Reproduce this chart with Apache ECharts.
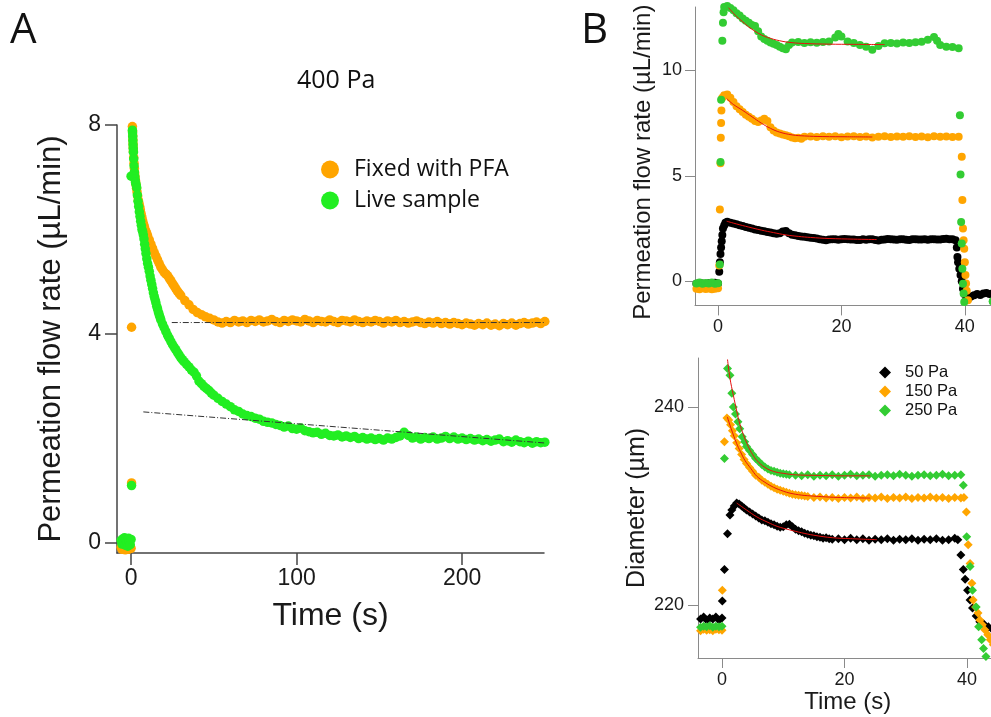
<!DOCTYPE html>
<html>
<head>
<meta charset="utf-8">
<script src="https://cdn.jsdelivr.net/npm/echarts@6/dist/echarts.min.js"></script>
<style>html,body{margin:0;padding:0;background:#fff}#c{width:991px;height:717px}</style>
</head>
<body>
<div id="c"></div>
<script>
// ---------- Panel A (400 Pa): [time s, flow µL/min] ----------
const fixedA = [[-6,-0.08],[-5.5,-0.12],[-5,-0.05],[-4.5,-0.1],[-4,-0.07],[-3.5,-0.13],[-3,-0.06],[-2.5,-0.1],[-2,-0.09],[-1.5,-0.12],[-1,-0.05],[-0.5,-0.08],[0,-0.1],
[0.3,1.15],[0.3,4.13],[0.8,7.97],[0.9,7.88],[1.0,7.8],[1.1,7.72],[1.2,7.64],[1.3,7.57],[1.4,7.5],[1.6,7.38],[1.8,7.27],[2.0,7.17],[2.2,7.08],[2.4,7.01],[2.7,6.93],[3.0,6.86],[3.3,6.79],[3.6,6.72],[4.0,6.64],[4.4,6.56],[4.8,6.5],[5.2,6.44],[5.6,6.38],[6.0,6.31],[6.5,6.24],[7.0,6.17],[7.5,6.11],[8,6.06],[8.5,6.0],[9,5.96],[9.5,5.92],[10,5.88],
[11,5.8],[12,5.72],[13,5.64],[14,5.56],[15,5.49],[16,5.42],[17,5.35],[18,5.28],[19,5.23],[20,5.18],[21,5.15],[22,5.12],[23,5.07],[24,5.02],[25,4.97],[26,4.92],[27,4.87],[28,4.82],[29,4.78],[30,4.74],
[32.5,4.64],[35,4.56],[37.5,4.47],[40,4.41],[42.5,4.37],[45,4.33],[47.5,4.3],[50,4.27],
[52.5,4.23],[55,4.21],[57.5,4.24],[60,4.22],[62.5,4.26],[65,4.23],[67.5,4.25],[70,4.22],[72.5,4.26],[75,4.24],[77.5,4.27],[80,4.23],[82.5,4.25],[85,4.28],[87.5,4.24],[90,4.22],[92.5,4.26],[95,4.24],[97.5,4.27],[100,4.25],
[102.5,4.23],[105,4.28],[107.5,4.25],[110,4.22],[112.5,4.26],[115,4.24],[117.5,4.23],[120,4.27],[122.5,4.24],[125,4.22],[127.5,4.26],[130,4.25],[132.5,4.23],[135,4.27],[137.5,4.24],[140,4.22],[142.5,4.25],[145,4.23],[147.5,4.26],[150,4.24],
[152.5,4.21],[155,4.25],[157.5,4.23],[160,4.26],[162.5,4.22],[165,4.24],[167.5,4.21],[170,4.23],[172.5,4.25],[175,4.22],[177.5,4.2],[180,4.23],[182.5,4.21],[185,4.24],[187.5,4.2],[190,4.22],[192.5,4.19],[195,4.22],[197.5,4.2],[200,4.18],
[202.5,4.21],[205,4.19],[207.5,4.17],[210,4.2],[212.5,4.18],[215,4.21],[217.5,4.17],[220,4.19],[222.5,4.16],[225,4.2],[227.5,4.18],[230,4.21],[232.5,4.17],[235,4.2],[237.5,4.22],[240,4.19],[242.5,4.21],[245,4.23],[247.5,4.2],[250,4.24]];

const liveA = [[-6,0.05],[-5.5,-0.02],[-5,0.08],[-4.5,0.0],[-4,0.1],[-3.5,-0.04],[-3,0.06],[-2.5,0.02],[-2,-0.06],[-1.5,0.09],[-1,0.03],[-0.5,-0.03],[0,0.07],
[0,7.02],[0.3,1.1],[0.8,7.9],[0.9,7.85],[1.0,7.78],[1.1,7.7],[1.2,7.62],[1.3,7.55],[1.4,7.48],[1.6,7.35],[1.8,7.22],[2.0,7.1],[2.2,7.02],[2.4,6.96],[2.7,6.9],[3.0,6.86],[3.4,6.8],[3.8,6.66],[4.2,6.54],[4.6,6.44],[5.0,6.34],[5.4,6.25],[5.8,6.16],[6.2,6.08],[6.6,6.0],[7.0,5.96],[7.4,5.9],[7.8,5.82],[8.2,5.72],[8.6,5.63],[9.0,5.54],[9.5,5.44],[10,5.35],
[10.5,5.28],[11,5.2],[11.5,5.11],[12,5.03],[12.5,4.95],[13,4.87],[13.5,4.79],[14,4.72],[14.5,4.66],[15,4.6],[15.5,4.53],[16,4.48],[16.5,4.42],[17,4.37],[17.5,4.32],[18,4.27],[19,4.19],[20,4.12],[21,4.05],[22,3.98],[23,3.92],[24,3.86],[25,3.8],[26,3.75],[27,3.7],[28,3.65],[29,3.6],[30,3.55],[31,3.51],[32,3.47],
[33.5,3.42],[35,3.37],[36.5,3.31],[38,3.27],[39.5,3.2],[41,3.1],[42.5,3.05],[44,3.0],[45.5,2.96],[47,2.92],[48.5,2.87],[50,2.83],
[52.5,2.77],[55,2.71],[57.5,2.66],[60,2.61],[62.5,2.55],[65,2.52],[67.5,2.47],[70,2.44],[72.5,2.42],[75,2.39],[77.5,2.37],[80,2.33],[82.5,2.31],[85,2.3],[87.5,2.27],[90,2.25],[92.5,2.22],[95,2.24],[97.5,2.19],[100,2.18],
[102.5,2.2],[105,2.15],[107.5,2.13],[110,2.11],[112.5,2.12],[115,2.08],[117.5,2.1],[120,2.06],[122.5,2.05],[125,2.07],[127.5,2.03],[130,2.05],[132.5,2.02],[135,2.04],[137.5,2.0],[140,2.02],[142.5,1.99],[145,2.01],[147.5,1.98],[150,2.0],
[152.5,1.97],[155,2.01],[157.5,1.99],[160,2.02],[162.5,2.05],[165,2.12],[167.5,2.06],[170,2.01],[172.5,2.03],[175,1.99],[177.5,2.02],[180,2.0],[182.5,2.03],[185,1.99],[187.5,2.01],[190,2.04],[192.5,2.0],[195,2.03],[197.5,1.99],[200,2.01],
[202.5,1.98],[205,2.0],[207.5,1.97],[210,1.99],[212.5,1.96],[215,1.98],[217.5,1.95],[220,1.97],[222.5,1.99],[225,1.94],[227.5,1.96],[230,1.93],[232.5,1.97],[235,1.94],[237.5,1.92],[240,1.95],[242.5,1.91],[245,1.94],[247.5,1.92],[250,1.93]];

const fitFixedA = [[24.6,4.22],[252,4.22]];
const fitLiveA = [[7.4,2.51],[252,1.91]];
const ticksA_x = [0,100,200];
const ticksA_y = [0,4,8];

// ---------- Panel B top: flow rate [time s, µL/min] ----------
const pa50Top = [[-3.5,-0.12],[-3,-0.08],[-2.5,-0.1],[-2,-0.14],[-1.5,-0.09],[-1,-0.11],[-0.5,-0.07],[0,-0.1],[0.2,0.45],[0.3,0.9],[0.4,1.3],[0.5,1.6],[0.6,1.9],[0.7,2.2],[0.8,2.5],[1.0,2.65],[1.2,2.78],[1.5,2.82],[2,2.78],[2.5,2.74],[3,2.7],[3.5,2.66],[4,2.62],[4.5,2.58],[5,2.54],[5.5,2.5],[6,2.46],[6.5,2.43],[7,2.4],[7.5,2.37],[8,2.34],[8.5,2.31],[9,2.28],[9.5,2.26],[10,2.28],[10.5,2.36],[11,2.38],[11.5,2.28],[12,2.21],[12.5,2.18],[13,2.15],[13.5,2.13],[14,2.11],[14.5,2.09],[15,2.07],[15.5,2.05],[16,2.03],[16.5,2.0],[17,1.97],[17.5,1.95],[18,1.98],[18.5,2.0],[19,1.99],[19.5,1.97],[20,1.99],[20.5,2.01],[21,2.0],[21.5,1.98],[22,1.98],[22.5,1.96],[23,1.96],[23.5,1.99],[24,1.97],[24.5,2.0],[25,1.99],[25.5,1.96],[26,1.94],[26.5,1.97],[27,1.98],[27.5,2.01],[28,2.0],[28.5,1.98],[29,1.97],[29.5,1.99],[30,1.99],[30.5,1.97],[31,1.96],[31.5,1.99],[32,2.0],[32.5,1.98],[33,1.98],[33.5,2.0],[34,1.97],[34.5,1.99],[35,2.0],[35.5,1.98],[36,1.98],[36.5,2.01],[37,2.02],[37.5,1.99],[38,2.0],[38.5,1.95],[38.7,1.6],[38.8,1.15],[38.9,0.9],[39.1,0.6],[39.3,0.3],[39.5,0.0],[39.7,-0.35],[39.9,-0.6],[40.2,-0.9],[40.6,-0.8],[41,-0.72],[41.5,-0.66],[42,-0.6],[42.5,-0.65],[43,-0.58],[43.5,-0.55],[44,-0.6],[44.5,-0.57],[45,-0.6]];

const pa150Top = [[-3.5,-0.35],[-3,-0.38],[-2.5,-0.33],[-2,-0.36],[-1.5,-0.34],[-1,-0.37],[-0.5,-0.35],[0,-0.33],[0.2,0.75],[0.3,3.4],[0.4,5.6],[0.45,6.8],[0.5,7.5],[0.55,8.1],[0.7,8.7],[1.0,8.82],[1.5,8.85],[2,8.7],[2.5,8.5],[3,8.3],[3.5,8.15],[4,8.02],[4.5,7.9],[5,7.8],[5.5,7.7],[6,7.6],[6.5,7.55],[7,7.62],[7.5,7.7],[8,7.6],[8.5,7.3],[9,7.15],[9.5,7.05],[10,7.0],[10.5,6.96],[11,6.92],[11.5,6.88],[12,6.82],[12.5,6.78],[13,6.8],[13.5,6.76],[14,6.85],[15,6.86],[16,6.84],[17,6.88],[18,6.85],[19,6.87],[20,6.83],[21,6.86],[22,6.88],[23,6.84],[24,6.86],[25,6.82],[26,6.85],[27,6.87],[28,6.84],[29,6.86],[30,6.85],[31,6.88],[32,6.84],[33,6.86],[34,6.83],[35,6.87],[36,6.85],[37,6.86],[38,6.84],[39,6.85],[39.5,5.9],[39.6,3.85],[39.7,2.5],[39.8,1.95],[39.9,1.55],[40.0,0.9],[40.1,0.3],[40.2,-0.1],[40.3,-0.45],[40.5,-0.9]];

const pa250Top = [[-3.5,-0.1],[-3,-0.05],[-2.5,-0.12],[-2,-0.08],[-1.5,-0.1],[-1,-0.06],[-0.5,-0.11],[0,-0.09],[0.3,0.8],[0.4,5.65],[0.5,8.6],[0.7,11.4],[0.8,12.25],[0.9,12.75],[1.0,13.0],[1.5,13.05],[2.0,12.95],[2.5,12.85],[3,12.7],[3.5,12.6],[4,12.45],[4.5,12.35],[5,12.25],[5.5,12.15],[6,12.1],[6.5,11.85],[7,11.6],[7.5,11.48],[8,11.4],[8.5,11.32],[9,11.26],[9.5,11.2],[10,11.12],[10.5,11.05],[11,11.0],[11.5,11.2],[12,11.32],[13,11.34],[14,11.3],[15,11.33],[16,11.31],[17,11.34],[18,11.36],[19,11.55],[19.5,11.72],[20,11.6],[21,11.36],[22,11.3],[23,11.2],[24,11.12],[25,10.98],[26,11.15],[27,11.28],[28,11.3],[29,11.27],[30,11.32],[31,11.3],[32,11.33],[33,11.35],[34,11.45],[35,11.58],[35.5,11.4],[36,11.2],[37,11.12],[38,11.1],[39,11.05],[39.2,7.87],[39.3,5.06],[39.4,2.81],[39.5,1.79],[39.6,0.6],[39.7,-0.11],[39.8,-0.58],[39.9,-0.98],[44.5,-0.95]];

const fit50Top = [[1.4,2.85],[3,2.72],[5,2.57],[7,2.43],[9,2.31],[11,2.2],[13,2.13],[15,2.08],[18,2.03],[22,2.0],[25.7,1.98]];
const fit150Top = [[1.4,8.66],[2.5,8.38],[4,8.1],[5.5,7.8],[7,7.5],[8.5,7.25],[10,7.07],[12,6.94],[14,6.89],[17,6.86],[21,6.85],[25,6.84]];
const fit250Top = [[1.7,12.97],[3,12.55],[4,12.3],[5,12.05],[6,11.85],[7,11.68],[8,11.56],[10,11.4],[12,11.31],[14,11.27],[18,11.24],[22,11.23],[27,11.22]];
const ticksBtop_x = [0,20,40];
const ticksBtop_y = [0,5,10];

// ---------- Panel B bottom: diameter [time s, µm] ----------
const pa50Bot = [[-3.5,218.6],[-3,218.8],[-2.5,218.5],[-2,218.7],[-1.5,218.6],[-1,218.8],[-0.5,218.5],[0,218.7],[0.05,220.4],[0.4,223.6],[0.9,227.2],[1.3,229.1],[1.6,229.6],[2.0,230.0],[2.4,230.3],[2.8,230.2],[3.2,230.0],[3.6,229.8],[4,229.6],[4.5,229.4],[5,229.2],[5.5,229.0],[6,228.8],[6.5,228.6],[7,228.5],[7.5,228.35],[8,228.2],[8.5,228.1],[9,227.95],[9.5,227.85],[10,227.9],[10.5,228.1],[11,228.15],[11.5,227.9],[12,227.65],[12.5,227.5],[13,227.4],[13.5,227.25],[14,227.15],[14.5,227.05],[15,227.0],[15.5,226.9],[16,226.85],[16.5,226.75],[17,226.8],[17.5,226.7],[18,226.65],[19,226.7],[20,226.6],[21,226.75],[22,226.6],[23,226.7],[24,226.55],[25,226.65],[26,226.6],[27,226.7],[28,226.55],[29,226.65],[30,226.6],[31,226.7],[32,226.55],[33,226.65],[34,226.6],[35,226.7],[36,226.55],[37,226.6],[38,226.75],[38.5,226.6],[39,225.05],[39.4,223.6],[39.7,222.6],[40.1,221.5],[40.5,220.5],[40.9,219.7],[41.5,218.9],[42.1,218.3],[42.7,218.1],[43.5,217.8],[44.2,217.5]];

const pa150Bot = [[-3.5,217.4],[-3,217.55],[-2.5,217.45],[-2,217.5],[-1.5,217.4],[-1,217.55],[-0.5,217.5],[0,217.45],[0.05,221.5],[0.4,236.5],[0.8,238.9],[1.1,238.7],[1.4,238.2],[1.7,237.6],[2.0,237.1],[2.4,236.4],[2.8,235.8],[3.2,235.2],[3.6,234.7],[4,234.3],[4.5,233.9],[5,233.5],[5.5,233.1],[6,232.9],[6.5,232.6],[7,232.4],[7.5,232.2],[8,232.0],[8.5,231.85],[9,231.7],[9.5,231.6],[10,231.5],[10.5,231.4],[11,231.3],[11.5,231.2],[12,231.15],[12.5,231.1],[13,231.05],[13.5,231.0],[14,230.95],[15,230.85],[16,230.9],[17,230.8],[18,230.85],[19,230.75],[20,230.85],[21,230.8],[22,230.9],[23,230.75],[24,230.85],[25,230.8],[26,230.9],[27,230.75],[28,230.85],[29,230.8],[30,230.9],[31,230.75],[32,230.85],[33,230.8],[34,230.9],[35,230.8],[36,230.85],[37,230.75],[38,230.85],[39,230.8],[39.5,230.85],[39.9,229.4],[40.2,226.1],[40.5,224.2],[40.8,222.2],[41,220.5],[41.4,219.8],[41.8,219.2],[42.1,218.5],[42.5,218.0],[42.9,217.5],[43.4,217.0],[43.8,216.5],[44.3,216.0]];

const pa250Bot = [[-3.5,217.75],[-3,217.85],[-2.5,217.8],[-2,217.9],[-1.5,217.75],[-1,217.85],[-0.5,217.8],[0,217.85],[0.4,234.8],[0.9,243.9],[1.3,243.2],[1.6,241.4],[1.85,240.0],[2.2,239.3],[2.6,238.5],[2.9,237.8],[3.3,237.0],[3.7,236.5],[4.0,236.0],[4.5,235.6],[5,235.2],[5.5,234.8],[6,234.5],[6.5,234.2],[7,233.95],[7.5,233.75],[8,233.6],[8.5,233.5],[9,233.4],[9.5,233.3],[10,233.25],[10.5,233.2],[11,233.15],[12,233.1],[13,233.05],[14,233.15],[15,233.0],[16,233.1],[17,233.05],[18,233.15],[19,233.0],[20,233.1],[21,233.2],[22,233.05],[23,233.1],[24,233.15],[25,233.0],[26,233.1],[27,233.15],[28,233.05],[29,233.2],[30,233.1],[31,233.0],[32,233.1],[33,233.15],[34,233.05],[35,233.1],[36,233.2],[37,233.05],[38,233.1],[39,233.15],[39.4,232.1],[39.95,226.9],[40.5,223.9],[40.9,221.5],[41.5,219.8],[41.9,217.8],[42.4,216.5],[42.7,215.6],[43.1,214.8]];

const fit50Bot = [[2.4,230.3],[4,229.6],[5.7,228.9],[7.5,228.35],[9,227.95],[11,227.6],[13,227.3],[15,227.05],[18,226.8],[21,226.7],[25.3,226.6]];
const fit150Bot = [[0.87,239.0],[1.5,237.8],[2.4,236.3],[3,235.5],[3.75,234.6],[4.7,233.8],[5.7,233.0],[7,232.4],[8.4,231.9],[10,231.5],[11.1,231.3],[13,231.1],[15,231.0],[17.6,230.9],[20,230.85],[24.2,230.8]];
const fit250Bot = [[0.9,244.8],[1.3,242.9],[1.85,241.2],[2.4,239.6],[2.9,238.3],[3.5,237.2],[4.3,236.0],[5,235.2],[5.7,234.6],[7,233.9],[8.4,233.5],[10,233.3],[12,233.15],[15,233.1],[20,233.05],[24.2,233.05]];
const ticksBbot_x = [0,20,40];
const ticksBbot_y = [220,240];

const legendA = ['Fixed with PFA','Live sample'];
const legendB = ['50 Pa','150 Pa','250 Pa'];

// ---------- styling ----------
const ORANGE = '#ffa500', GREEN_A = '#22ee22', GREEN_B = '#33cc33', BLACK = '#000000', RED = '#e81010';
const AX = "'Liberation Sans', Arial, sans-serif";
const OS = "'Open Sans', sans-serif";

function axisCommon(color, width, tickLen, fs, ticks, margin) {
  return {
    type: 'value', scale: false,
    splitLine: {show: false},
    axisLine: {show: true, onZero: false, lineStyle: {color: color, width: width}},
    axisTick: {show: true, inside: false, length: tickLen, lineStyle: {color: color, width: width}, customValues: ticks},
    axisLabel: {show: true, fontFamily: AX, fontSize: fs, color: '#1a1a1a', margin: margin, customValues: ticks},
    nameTextStyle: {fontFamily: AX, color: '#1a1a1a'}
  };
}

const chart = echarts.init(document.getElementById('c'), null, {renderer: 'canvas'});

const xA = Object.assign(axisCommon('#444', 1.5, 12, 23, ticksA_x, 14), {gridIndex: 0, min: -8.5, max: 249.5, name: 'Time (s)', nameLocation: 'middle', nameGap: 47});
xA.nameTextStyle = {fontFamily: AX, fontSize: 32, color: '#1a1a1a'};
const yA = Object.assign(axisCommon('#444', 1.5, 12, 23, ticksA_y, 16), {gridIndex: 0, min: -0.19, max: 8, name: 'Permeation flow rate (µL/min)', nameLocation: 'middle', nameGap: 50});
yA.nameTextStyle = {fontFamily: AX, fontSize: 31, color: '#1a1a1a'};

const xBt = Object.assign(axisCommon('#8a8a8a', 1, 10, 18, ticksBtop_x, 13), {gridIndex: 1, min: -3.73, max: 45});
const yBt = Object.assign(axisCommon('#8a8a8a', 1, 10, 18, ticksBtop_y, 13), {gridIndex: 1, min: -1.14, max: 13.0, name: 'Permeation flow rate (µL/min)', nameLocation: 'middle', nameGap: 40});
yBt.nameTextStyle = {fontFamily: AX, fontSize: 24, color: '#1a1a1a', padding: [0, 12, 0, 0]};

const xBb = Object.assign(axisCommon('#8a8a8a', 1, 10, 18, ticksBbot_x, 13), {gridIndex: 2, min: -3.92, max: 45, name: 'Time (s)', nameLocation: 'middle', nameGap: 31});
xBb.nameTextStyle = {fontFamily: AX, fontSize: 24, color: '#1a1a1a'};
const yBb = Object.assign(axisCommon('#8a8a8a', 1, 10, 18, ticksBbot_y, 14), {gridIndex: 2, min: 214.65, max: 244.95, name: 'Diameter (µm)', nameLocation: 'middle', nameGap: 43});
yBb.nameTextStyle = {fontFamily: AX, fontSize: 25, color: '#1a1a1a'};

function scatter(name, data, xi, color, symbol, size) {
  return {type: 'scatter', name: name, xAxisIndex: xi, yAxisIndex: xi, data: data, symbol: symbol, symbolSize: size,
          itemStyle: {color: color, opacity: 1}, clip: false, silent: true, z: 2};
}
function fitLine(name, data, xi, color, type, smooth) {
  return {type: 'line', name: name, xAxisIndex: xi, yAxisIndex: xi, data: data, showSymbol: false, symbol: 'none', smooth: smooth,
          lineStyle: {color: color, width: 1, type: type}, clip: false, silent: true, z: 4};
}

const option = {
  animation: false,
  backgroundColor: '#ffffff',
  title: [
    {text: 'A', left: 10, top: 10, padding: 0, textStyle: {fontFamily: OS, fontSize: 42, fontWeight: 'normal', color: '#111'}},
    {text: 'B', left: 581, top: 10, padding: 0, textStyle: {fontFamily: OS, fontSize: 42, fontWeight: 'normal', color: '#111'}},
    {text: '400 Pa', left: 297, top: 68, padding: 0, textStyle: {fontFamily: OS, fontSize: 25, fontWeight: 'normal', color: '#111'}}
  ],
  legend: [
    {data: legendA, orient: 'vertical', left: 321, top: 158, padding: 0, itemWidth: 18, itemHeight: 18, itemGap: 8, icon: 'circle',
     selectedMode: false, textStyle: {fontFamily: OS, fontSize: 23, color: '#111', padding: [0, 0, 0, 10]}},
    {data: legendB, orient: 'vertical', left: 879, top: 364, padding: 0, itemWidth: 12, itemHeight: 12, itemGap: 2, icon: 'diamond',
     selectedMode: false, textStyle: {fontFamily: AX, fontSize: 16.5, color: '#111', padding: [0, 0, 0, 9]}}
  ],
  grid: [
    {left: 117, top: 125, width: 427, height: 428, outerBoundsMode: 'none'},
    {left: 695, top: 7, width: 300.7, height: 298.4, outerBoundsMode: 'none'},
    {left: 698, top: 358, width: 299.6, height: 300, outerBoundsMode: 'none'}
  ],
  xAxis: [xA, xBt, xBb],
  yAxis: [yA, yBt, yBb],
  series: [
    scatter('Fixed with PFA', fixedA, 0, ORANGE, 'circle', 9.5),
    scatter('Live sample', liveA, 0, GREEN_A, 'circle', 9.5),
    fitLine('fit fixed', fitFixedA, 0, '#333', [6, 2, 1, 2], false),
    fitLine('fit live', fitLiveA, 0, '#333', [6, 2, 1, 2], false),

    scatter('50 Pa', pa50Top, 1, BLACK, 'circle', 8),
    scatter('150 Pa', pa150Top, 1, ORANGE, 'circle', 8),
    scatter('250 Pa', pa250Top, 1, GREEN_B, 'circle', 8),
    fitLine('fit 50 top', fit50Top, 1, RED, 'solid', 0.4),
    fitLine('fit 150 top', fit150Top, 1, RED, 'solid', 0.4),
    fitLine('fit 250 top', fit250Top, 1, RED, 'solid', 0.4),

    scatter('50 Pa', pa50Bot, 2, BLACK, 'diamond', 9),
    scatter('150 Pa', pa150Bot, 2, ORANGE, 'diamond', 9),
    scatter('250 Pa', pa250Bot, 2, GREEN_B, 'diamond', 9),
    fitLine('fit 50 bot', fit50Bot, 2, RED, 'solid', 0.4),
    fitLine('fit 150 bot', fit150Bot, 2, RED, 'solid', 0.4),
    fitLine('fit 250 bot', fit250Bot, 2, RED, 'solid', 0.4)
  ]
};
chart.setOption(option);
</script>
</body>
</html>
